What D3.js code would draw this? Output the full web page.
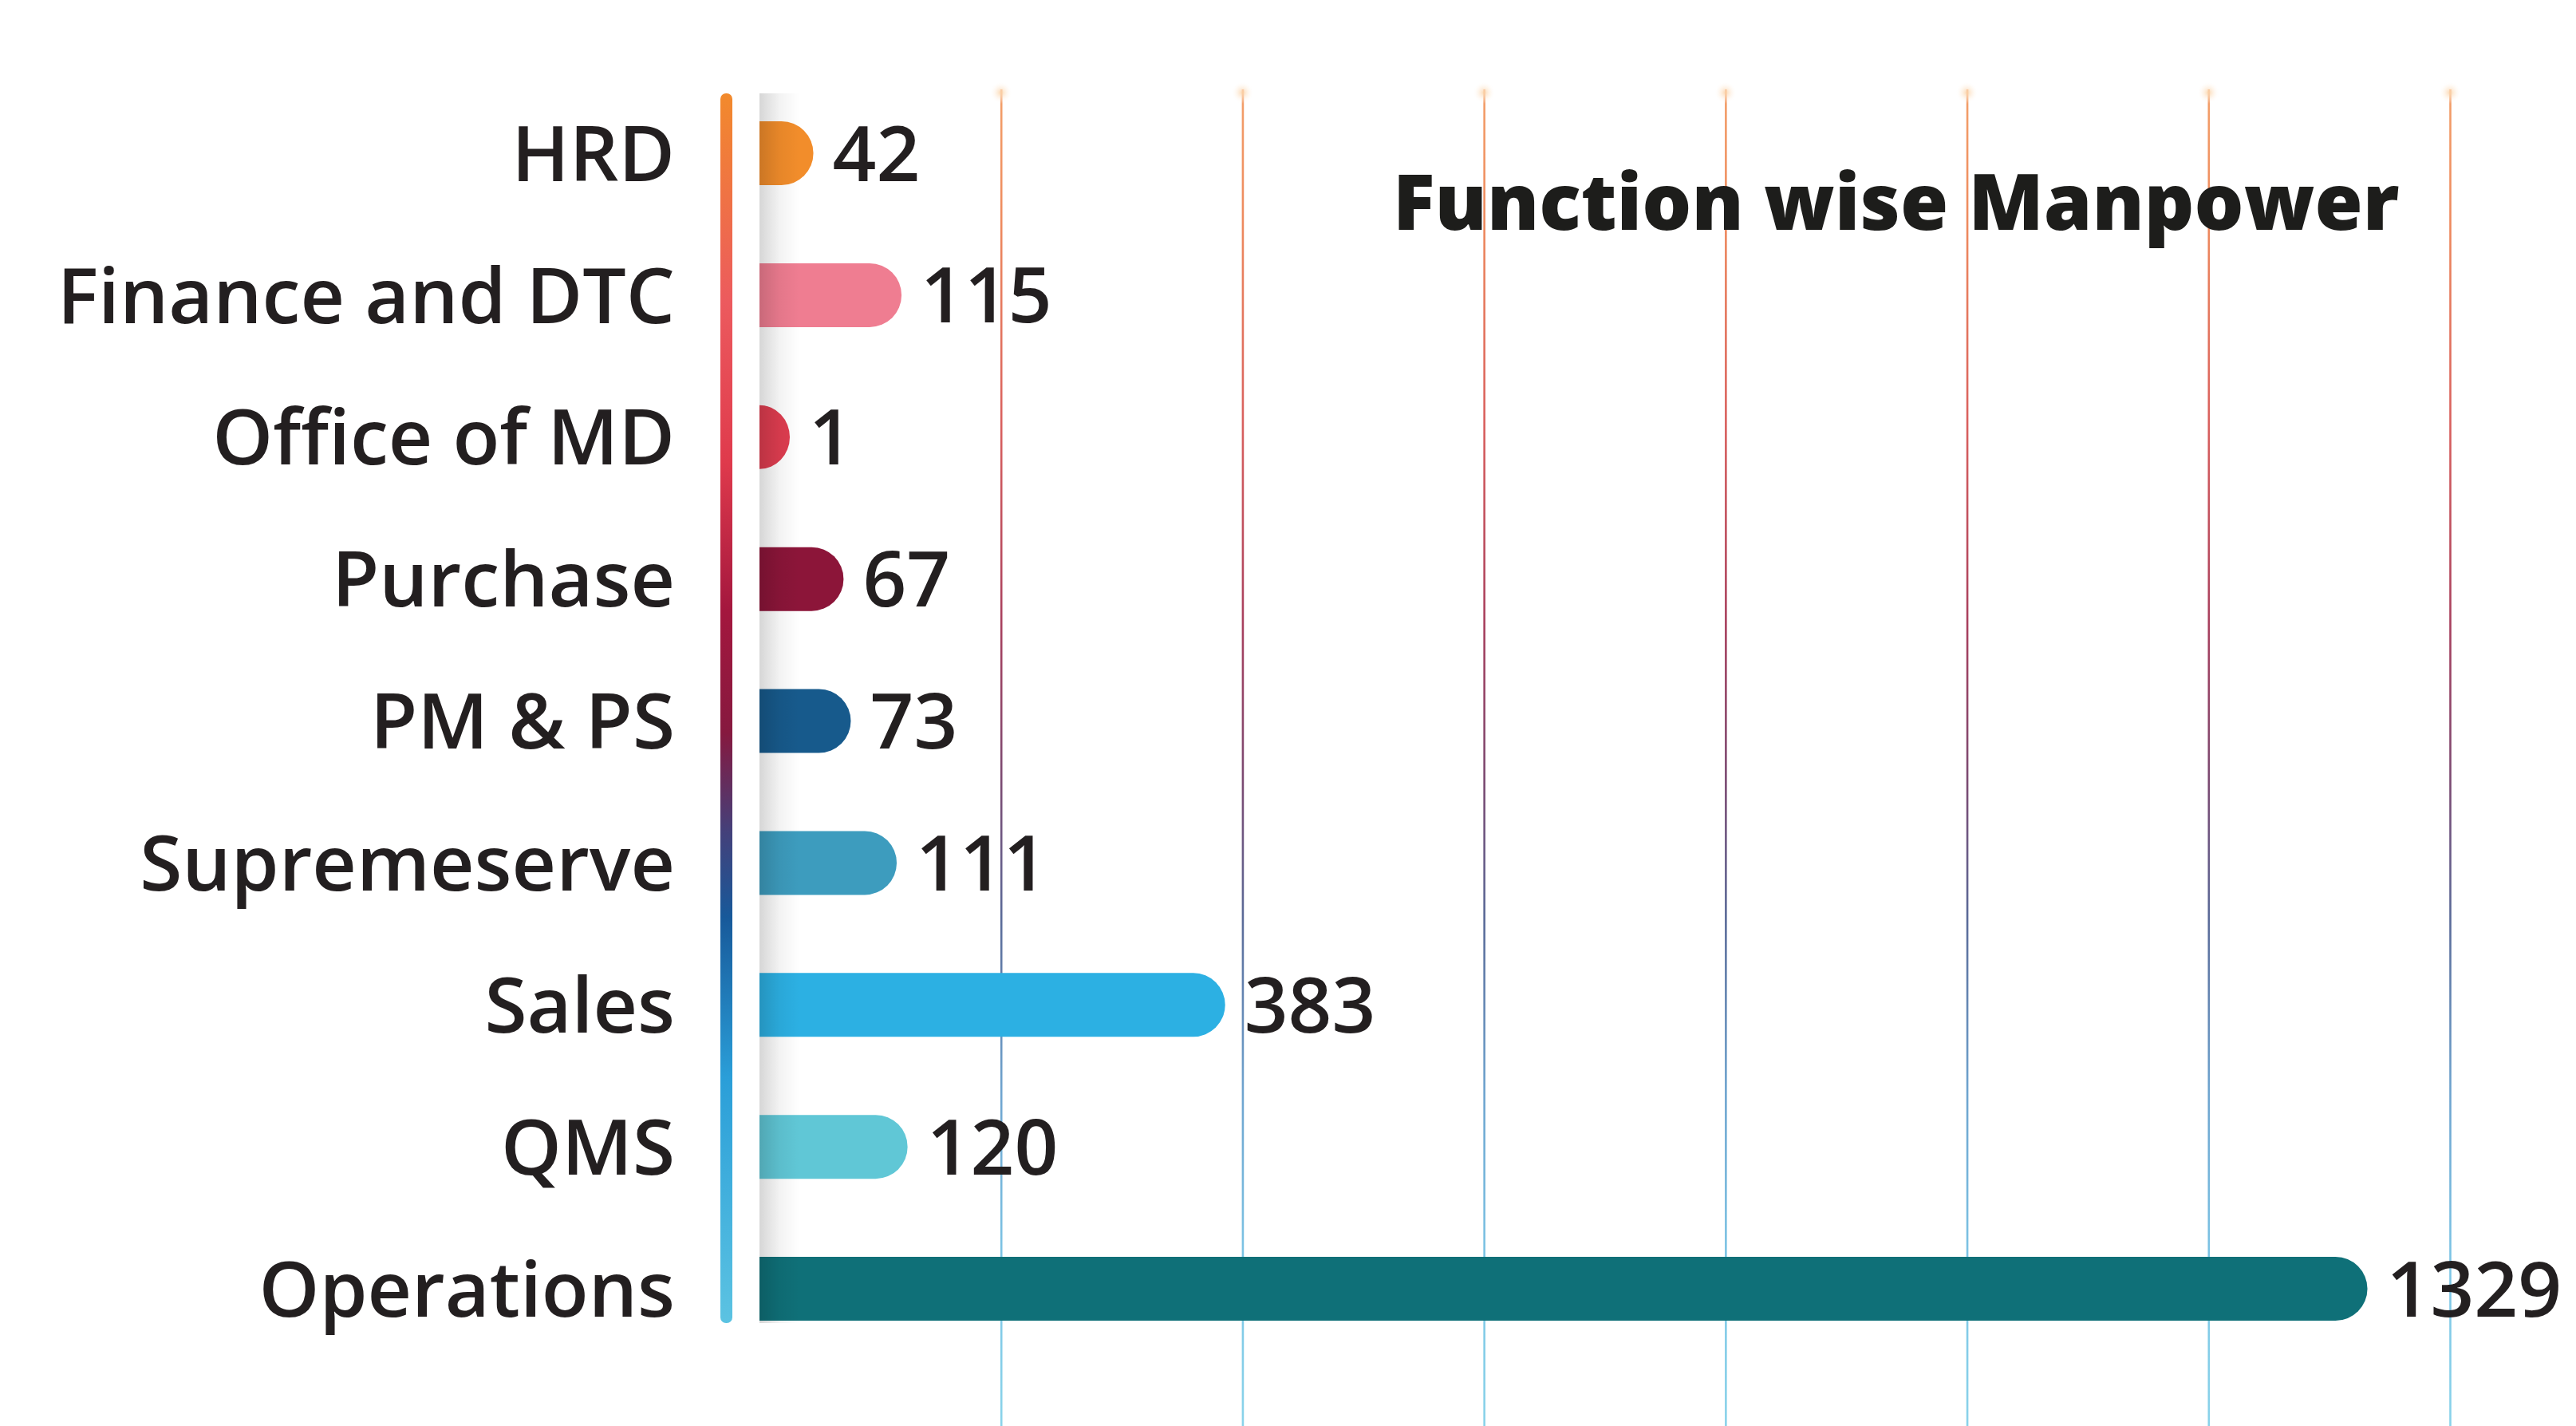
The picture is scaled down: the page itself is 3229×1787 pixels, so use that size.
<!DOCTYPE html>
<html>
<head>
<meta charset="utf-8">
<script src="https://cdn.jsdelivr.net/npm/d3@7"></script>
<style>
  html, body { margin: 0; padding: 0; background: #ffffff; }
  svg { display: block; }
</style>
</head>
<body>
<script>
// ---- data ----
const categories = ["HRD", "Finance and DTC", "Office of MD", "Purchase", "PM & PS", "Supremeserve", "Sales", "QMS", "Operations"];
const values = [42, 115, 1, 67, 73, 111, 383, 120, 1329];
const barColors = ["#f28d2b", "#ef7d91", "#df3d50", "#8c1539", "#175a8c", "#3d9cbe", "#2cb0e3", "#60c7d6", "#0f7078"];
const gridTicks = [200, 400, 600, 800, 1000, 1200, 1400];
const title = "Function wise Manpower";

// ---- layout ----
const W = 3229, H = 1787;
const svg = d3.select("body").append("svg").attr("width", W).attr("height", H);
const defs = svg.append("defs");

const x = d3.scaleLinear().domain([0, 1400]).range([952, 3071]);
const y = d3.scalePoint().domain(categories).range([192, 1615]);
const barH = 80;
const accentTop = 117, accentBottom = 1658;
const gridTop = 112;

// accent gradient (vertical)
const accStops = [
  [0, "#f28a2c"], [0.17, "#ec5a5e"], [0.3, "#df3a4c"], [0.42, "#a4173e"],
  [0.52, "#86193f"], [0.6, "#44407a"], [0.67, "#17599a"], [0.8, "#2a9ed8"], [1, "#5cc3e2"]
];
const ag = defs.append("linearGradient").attr("id", "accent")
  .attr("gradientUnits", "userSpaceOnUse").attr("x1", 0).attr("x2", 0)
  .attr("y1", accentTop).attr("y2", accentBottom);
accStops.forEach(s => ag.append("stop").attr("offset", s[0]).attr("stop-color", s[1]));

// gridline gradient, in the tick's local space (y from -(H-gridTop) to 0)
const gg = defs.append("linearGradient").attr("id", "grid")
  .attr("gradientUnits", "userSpaceOnUse").attr("x1", 0).attr("x2", 0)
  .attr("y1", -(H - gridTop)).attr("y2", 0);
[[0, "#f3a06a"], [0.1, "#ee8a5e"], [0.25, "#d9605e"], [0.4, "#a8405e"],
 [0.52, "#7a4a72"], [0.62, "#5a6a98"], [0.75, "#6ea4cf"], [0.88, "#7dc6e6"], [1, "#8ad3ea"]]
  .forEach(s => gg.append("stop").attr("offset", s[0]).attr("stop-color", s[1]));

const glow = defs.append("radialGradient").attr("id", "glow");
glow.append("stop").attr("offset", 0).attr("stop-color", "#fbd3a8").attr("stop-opacity", 0.9);
glow.append("stop").attr("offset", 1).attr("stop-color", "#fff").attr("stop-opacity", 0);

const sh = defs.append("linearGradient").attr("id", "shadow")
  .attr("x1", 0).attr("x2", 1).attr("y1", 0).attr("y2", 0);
sh.append("stop").attr("offset", 0).attr("stop-color", "#000").attr("stop-opacity", 0.16);
sh.append("stop").attr("offset", 0.5).attr("stop-color", "#000").attr("stop-opacity", 0.05);
sh.append("stop").attr("offset", 1).attr("stop-color", "#000").attr("stop-opacity", 0);

// ---- gridlines via axis ----
const gAxis = svg.append("g").attr("transform", `translate(0,${H})`)
  .call(d3.axisBottom(x).tickValues(gridTicks).tickSize(-(H - gridTop)).tickFormat(""));
gAxis.select(".domain").remove();
gAxis.selectAll(".tick line").attr("stroke", "url(#grid)").attr("stroke-width", 2.6);

svg.append("g").selectAll("ellipse").data(gridTicks).join("ellipse")
  .attr("cx", d => x(d)).attr("cy", gridTop + 4).attr("rx", 14).attr("ry", 14)
  .attr("fill", "url(#glow)");

// ---- title ----
svg.append("text").attr("x", 1746).attr("y", 288)
  .attr("font-family", "'Open Sans', 'Noto Sans', sans-serif")
  .attr("font-weight", 800).attr("font-size", 97.5).attr("fill", "#1d1d1b")
  .text(title);

// ---- accent line ----
svg.append("rect").attr("x", 903).attr("y", accentTop).attr("width", 15)
  .attr("height", accentBottom - accentTop).attr("rx", 7).attr("fill", "url(#accent)");

// ---- bars ----
const r = barH / 2;
const barEnd = v => Math.max(x(v) + 4, x(0) + r - 2);
const rows = categories.map((c, i) => ({ c, v: values[i], col: barColors[i] }));

svg.append("g").selectAll("path").data(rows).join("path")
  .attr("transform", d => `translate(0,${y(d.c)})`)
  .attr("d", d => {
    const x0 = x(0), x1 = barEnd(d.v);
    const cr = Math.min(r, x1 - x0);
    return `M${x0},${-r} L${x1 - cr},${-r} A${cr},${r} 0 0 1 ${x1 - cr},${r} L${x0},${r} Z`;
  })
  .attr("fill", d => d.col);

// shadow strip at the baseline
svg.append("rect").attr("x", x(0)).attr("y", accentTop).attr("width", 50)
  .attr("height", accentBottom - accentTop).attr("fill", "url(#shadow)");

// ---- category labels ----
svg.append("g").selectAll("text").data(rows).join("text")
  .attr("x", 846).attr("y", d => y(d.c)).attr("dy", "0.36em")
  .attr("text-anchor", "end")
  .attr("font-family", "'Open Sans', 'Noto Sans', sans-serif")
  .attr("font-weight", 600).attr("font-size", 96.5).attr("fill", "#231f20")
  .text(d => d.c);

// ---- value labels ----
svg.append("g").selectAll("text").data(rows).join("text")
  .attr("x", d => barEnd(d.v) + 24).attr("y", d => y(d.c)).attr("dy", "0.36em")
  .attr("font-family", "'Open Sans', 'Noto Sans', sans-serif")
  .attr("font-weight", 600).attr("font-size", 96).attr("fill", "#231f20")
  .text(d => d.v);
</script>
</body>
</html>
